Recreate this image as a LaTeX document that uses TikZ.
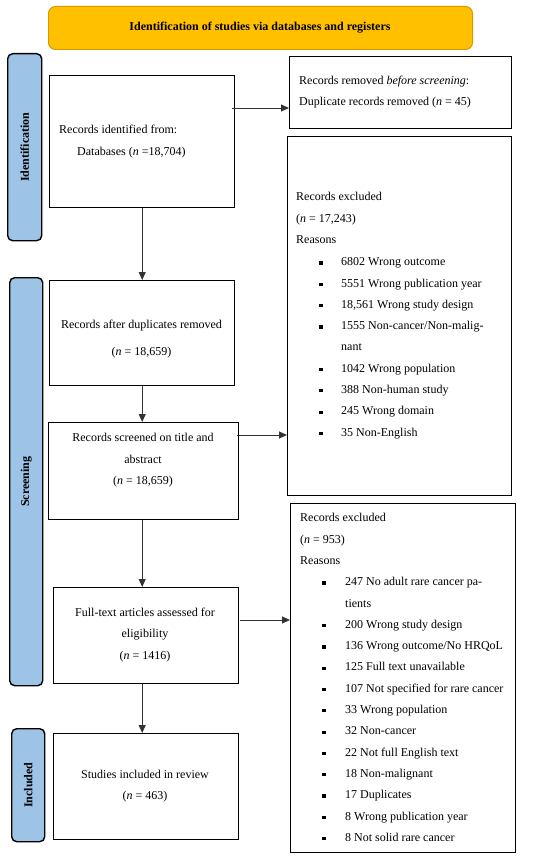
\documentclass[tikz,border=0pt]{standalone}
\usepackage{fontspec}
\setmainfont{Liberation Serif}
\usetikzlibrary{arrows.meta,calc}
\definecolor{bannerfill}{HTML}{FFC000}
\definecolor{bannerline}{HTML}{D99A00}
\definecolor{sidefill}{HTML}{9DC3E6}
\begin{document}
\begin{tikzpicture}[x=1pt,y=-1pt,
  box/.style={draw=black,line width=1.4pt,fill=white,inner sep=0pt,anchor=north west},
  sidebar/.style={draw=black,line width=1.4pt,fill=sidefill,rounded corners=5pt,inner sep=0pt,anchor=north west},
  arr/.style={draw=black!80,line width=0.9pt,-{Triangle[length=8pt,width=7pt]}},
  txt/.style={font=\fontsize{12}{14}\selectfont,inner sep=0pt,text height=8pt,text depth=2.5pt},
  lt/.style={txt,anchor=west},
  ct/.style={txt,anchor=center},
  bul/.style={fill=black,inner sep=0pt,minimum size=3.2pt},
  sidelabel/.style={font=\fontsize{12}{14}\selectfont\bfseries,rotate=90,inner sep=0pt}]
\useasboundingbox (0,0) rectangle (550,861);

% banner
\node[draw=bannerline,line width=1pt,fill=bannerfill,rounded corners=7pt,inner sep=0pt,
  minimum width=424pt,minimum height=43pt,anchor=north west] (banner) at (48,6) {};
\node[inner sep=0pt,font=\fontsize{12}{14}\selectfont\bfseries] (bannertxt) at (260,28) {Identification of studies via databases and registers};

% side bars
\node[sidebar,minimum width=34pt,minimum height=187pt] (s1) at (7,53) {};
\node[sidelabel] (s1t) at (s1.center) {Identification};
\node[sidebar,minimum width=33pt,minimum height=408pt] (s2) at (9,277) {};
\node[sidelabel] (s2t) at (s2.center) {Screening};
\node[sidebar,minimum width=33pt,minimum height=113pt] (s3) at (11,728) {};
\node[sidelabel] (s3t) at (s3.center) {Included};

% boxes
\node[box,minimum width=185pt,minimum height=132pt] (b1) at (49,75) {};
\node[box,minimum width=222pt,minimum height=72pt] (rem) at (289,56) {};
\node[box,minimum width=224pt,minimum height=359pt] (ex1) at (287,136) {};
\node[box,minimum width=185pt,minimum height=105pt] (b2) at (49,280) {};
\node[box,minimum width=190pt,minimum height=97pt] (b3) at (48,422) {};
\node[box,minimum width=185pt,minimum height=96pt] (b4) at (53,587) {};
\node[box,minimum width=185pt,minimum height=106pt] (b5) at (53,733) {};
\node[box,minimum width=225pt,minimum height=349pt] (ex2) at (290,503) {};

% texts
\node[lt] (b1a) at (59,131) {Records identified from:};
\node[lt] (b1b) at (77,153) {Databases (\textit{n} =18,704)};
\node[lt] (rema) at (299,82) {Records removed \textit{before screening}:};
\node[lt] (remb) at (299,103) {Duplicate records removed (\textit{n} = 45)};
\node[lt] (ex1a) at (296,198) {Records excluded};
\node[lt] (ex1b) at (296,220) {(\textit{n} = 17,243)};
\node[lt] (ex1c) at (296,241) {Reasons};
\node[ct] (b2a) at (141.5,326) {Records after duplicates removed};
\node[ct] (b2b) at (141.5,353) {(\textit{n} = 18,659)};
\node[ct] (b3a) at (143,439) {Records screened on title and};
\node[ct] (b3b) at (143,461) {abstract};
\node[ct] (b3c) at (143,482) {(\textit{n} = 18,659)};
\node[ct] (b4a) at (145,614) {Full-text articles assessed for};
\node[ct] (b4b) at (145,635) {eligibility};
\node[ct] (b4c) at (145,657) {(\textit{n} = 1416)};
\node[ct] (b5a) at (145,776) {Studies included in review};
\node[ct] (b5b) at (145,797) {(\textit{n} = 463)};
\node[lt] (ex2a) at (300,519) {Records excluded};
\node[lt] (ex2b) at (300,541) {(\textit{n} = 953)};
\node[lt] (ex2c) at (300,562) {Reasons};

% list 1
\foreach \t/\b [count=\k from 0] in {{6802 Wrong outcome}/1,{5551 Wrong publication year}/1,{18,561 Wrong study design}/1,{1555 Non-cancer/Non-malig-}/1,{nant}/0,{1042 Wrong population}/1,{388 Non-human study}/1,{245 Wrong domain}/1,{35 Non-English}/1}{
  \node[lt] (la\k) at (341,263+21.3*\k) {\t};
  \ifnum\b=1 \node[bul] (ba\k) at (321,263+21.3*\k) {};\fi
}
% list 2
\foreach \t/\b [count=\k from 0] in {{247 No adult rare cancer pa-}/1,{tients}/0,{200 Wrong study design}/1,{136 Wrong outcome/No HRQoL}/1,{125 Full text unavailable}/1,{107 Not specified for rare cancer}/1,{33 Wrong population}/1,{32 Non-cancer}/1,{22 Not full English text}/1,{18 Non-malignant}/1,{17 Duplicates}/1,{8 Wrong publication year}/1,{8 Not solid rare cancer}/1}{
  \node[lt] (lb\k) at (345,583+21.3*\k) {\t};
  \ifnum\b=1 \node[bul] (bb\k) at (324,583+21.3*\k) {};\fi
}

% connectors
\coordinate (a1) at ($(b1.north east)+(-3,33)$);
\draw[arr] (a1) -- (a1 -| rem.west);
\draw[arr] (b1.south) -- (b2.north);
\draw[arr] (b2.south) -- (b2.south |- b3.north);
\coordinate (a3) at ($(b3.north east)+(-2,13)$);
\draw[arr] (a3) -- (a3 -| ex1.west);
\draw[arr] (b3.south -| b2.south) -- (b2.south |- b4.north);
\coordinate (a4) at ($(b4.north east)+(1,33)$);
\draw[arr] (a4) -- (a4 -| ex2.west);
\draw[arr] (b4.south -| b1.south) -- (b1.south |- b5.north);
\end{tikzpicture}
\end{document}
